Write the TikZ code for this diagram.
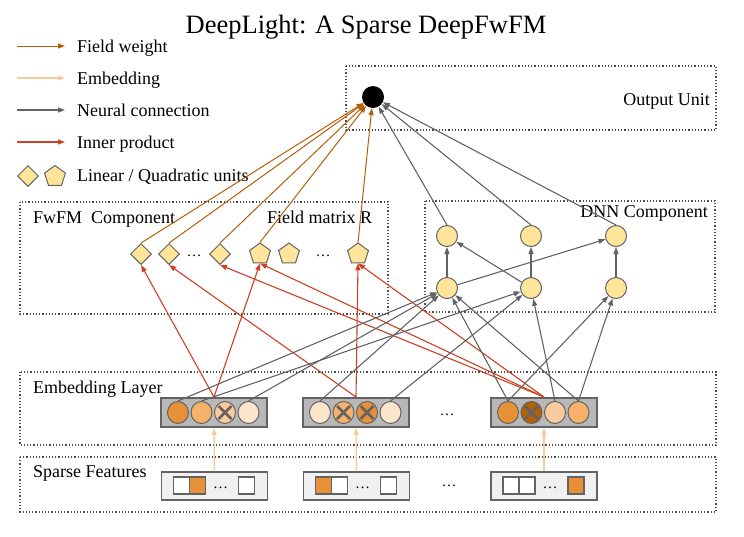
\documentclass[tikz,border=0pt]{standalone}
\usepackage{fontspec}
\setmainfont{Liberation Serif}
\usetikzlibrary{arrows.meta,shapes.geometric}
\definecolor{fwcol}{HTML}{B45F06}
\definecolor{embcol}{HTML}{F9CB9C}
\definecolor{nncol}{HTML}{636363}
\definecolor{ipcol}{HTML}{CC4125}
\definecolor{unitcol}{HTML}{FFE599}
\definecolor{ora}{HTML}{E69138}
\definecolor{orb}{HTML}{F6B26B}
\definecolor{orc}{HTML}{F9CB9C}
\definecolor{ord}{HTML}{FCE5CD}
\definecolor{ore}{HTML}{B45F06}
\newcommand{\lbl}{\fontsize{18}{21}\selectfont}
\newcommand{\ttl}{\fontsize{26.5}{30}\selectfont}

\begin{document}
\begin{tikzpicture}[x=1pt,y=-1pt,
  fwline/.style={fwcol,line width=1pt,-{Triangle[length=7pt,width=5pt]}},
  embline/.style={embcol,line width=1.3pt,-{Triangle[length=7pt,width=5pt]}},
  nnline/.style={nncol,line width=1.1pt,-{Triangle[length=7pt,width=5pt]}},
  ipline/.style={ipcol,line width=1.1pt,-{Triangle[length=7pt,width=5pt]}},
  zone/.style={draw=black!70,dotted,line width=1.2pt},
  txt/.style={font=\lbl,inner sep=0pt},
  dots/.style={font=\fontsize{15}{18}\selectfont,inner sep=0pt,anchor=base},
  lin/.style={diamond,draw=nncol,fill=unitcol,line width=1pt,minimum width=21pt,minimum height=21pt,inner sep=0pt},
  quad/.style={regular polygon,regular polygon sides=5,draw=nncol,fill=unitcol,line width=1pt,minimum size=22pt,inner sep=0pt},
  neuron/.style={circle,draw=nncol,fill=unitcol,line width=1pt,minimum size=21pt,inner sep=0pt},
  field/.style={draw=nncol,fill=black!28,line width=2pt,minimum width=106pt,minimum height=29pt,inner sep=0pt},
  emb/.style={ellipse,draw=nncol,line width=1pt,minimum width=21pt,minimum height=22pt,inner sep=0pt},
  sparse/.style={draw=nncol,fill=black!6,line width=1.5pt,minimum width=106pt,minimum height=28pt,inner sep=0pt},
  bit/.style={draw=nncol,line width=1.4pt,minimum width=16pt,minimum height=17pt,inner sep=0pt},
  xmark/.style={nncol,line width=2.8pt}]
  \useasboundingbox (0,0) rectangle (744,536);
  \node[font=\ttl,inner sep=0pt,anchor=base] (title) at (366,33) {DeepLight: A Sparse DeepFwFM};

  % legend
  \foreach \n/\y/\s/\t in {1/46/fwline/Field weight,2/78/embline/Embedding,3/110/nnline/Neural connection,4/142/ipline/Inner product}{
    \coordinate (leg\n a) at (17,\y);
    \coordinate (leg\n b) at (65,\y);
    \draw[\s] (leg\n a) -- (leg\n b);
    \node[txt,anchor=base west] (legt\n) at (77,\y+6.5) {\t};  }
  \node[lin] (legd) at (28,176) {};
  \node[quad] (legp) at (55,176.5) {};
  \node[txt,anchor=base west] (legt5) at (77,181) {Linear / Quadratic units};

  % dotted zones
  \draw[zone] (346,66) rectangle (716,130);
  \draw[zone] (20,202) rectangle (388,314);
  \draw[zone] (425,201) rectangle (715,312);
  \draw[zone] (20,372) rectangle (716,445);
  \draw[zone] (20,457) rectangle (716,512);
  \node[txt,anchor=base east] (outlbl) at (710,105) {Output Unit};
  \node[txt,anchor=base west] (fwfmlbl) at (33,223) {FwFM\ \ Component};
  \node[txt,anchor=base west] (rlbl) at (267,223) {Field matrix R};
  \node[txt,anchor=base east] (dnnlbl) at (708,217) {DNN Component};
  \node[txt,anchor=base west] (emblbl) at (33,393) {Embedding Layer};
  \node[txt,anchor=base west] (splbl) at (33,477) {Sparse Features};

  % output unit
  \node[circle,fill=black,minimum size=22pt,inner sep=0pt] (out) at (373,97) {};

  % FwFM units
  \node[lin] (d1) at (141,254) {};
  \node[lin] (d2) at (169,254) {};
  \node[dots] (ddots) at (194,256) {…};
  \node[lin] (d3) at (220,254) {};
  \node[quad] (p1) at (260,254) {};
  \node[quad] (p2) at (289,254) {};
  \node[dots] (pdots) at (323,256) {…};
  \node[quad] (p3) at (358,254) {};

  % DNN units
  \foreach \i/\x in {1/447,2/531,3/616}{
    \node[neuron] (t\i) at (\x,236) {};
    \node[neuron] (b\i) at (\x,288) {};  }

  % embedding fields
  \foreach \k/\x/\ca/\cb/\cc/\cd in {1/214/ora/orb/orc/ord,2/356/ord/orb/ora/ord,3/544/ora/ore/orc/orb}{
    \node[field] (g\k) at (\x,412.5) {};
    \node[emb,fill=\ca] (e\k1) at (\x-36,412.5) {};
    \node[emb,fill=\cb] (e\k2) at (\x-12.5,412.5) {};
    \node[emb,fill=\cc] (e\k3) at (\x+11,412.5) {};
    \node[emb,fill=\cd] (e\k4) at (\x+34.5,412.5) {};  }
  \foreach \e in {e13,e22,e23,e32}{% dropped entries
    \draw[xmark] (\e.center) ++(-6.5,-6.5) -- ++(13,13) (\e.center) ++(6.5,-6.5) -- ++(-13,13);  }
  \node[dots] (gdots) at (447,415) {…};

  % sparse features
  \foreach \k/\x/\ca/\cb/\cc in {1/214.5/white/ora/white,2/356.5/ora/white/white,3/544/white/white/ora}{
    \node[sparse] (s\k) at (\x,486) {};
    \node[bit,fill=\ca] (s\k a) at (\x-33,485.5) {};
    \node[bit,fill=\cb] (s\k b) at (\x-17,485.5) {};
    \node[dots] (s\k d) at (\x+6,488) {…};
    \node[bit,fill=\cc] (s\k c) at (\x+32,485.5) {};
    \draw[embline] (s\k) -- (g\k);  }
  \node[dots] (sdots) at (449,486) {…};

  % inner products
  \foreach \a/\b in {g1/d1,g1/p1,g2/d2,g2/p3,g3/d3,g3/p1,g3/p3}
    \draw[ipline] (\a.north) -- (\b.south);

  % embedding to DNN
  \foreach \a/\b in {e11/b1,e12/b2,e14/b1,e21/b1,e24/b2,e31/b1,e31/b3,e33/b2,e34/b3,e34/b1}
    \draw[nnline] (\a.north) -- (\b);
  \foreach \a/\b in {b1/t1,b2/t2,b3/t3,b1/t3,b2/t1}
    \draw[nnline] (\a) -- (\b);
  \foreach \a in {t1,t2,t3}
    \draw[nnline] (\a.north) -- (out);

  % field weights
  \foreach \a in {d1,d2,d3,p1,p3}
    \draw[fwline] (\a.north) -- (out);
\end{tikzpicture}
\end{document}
